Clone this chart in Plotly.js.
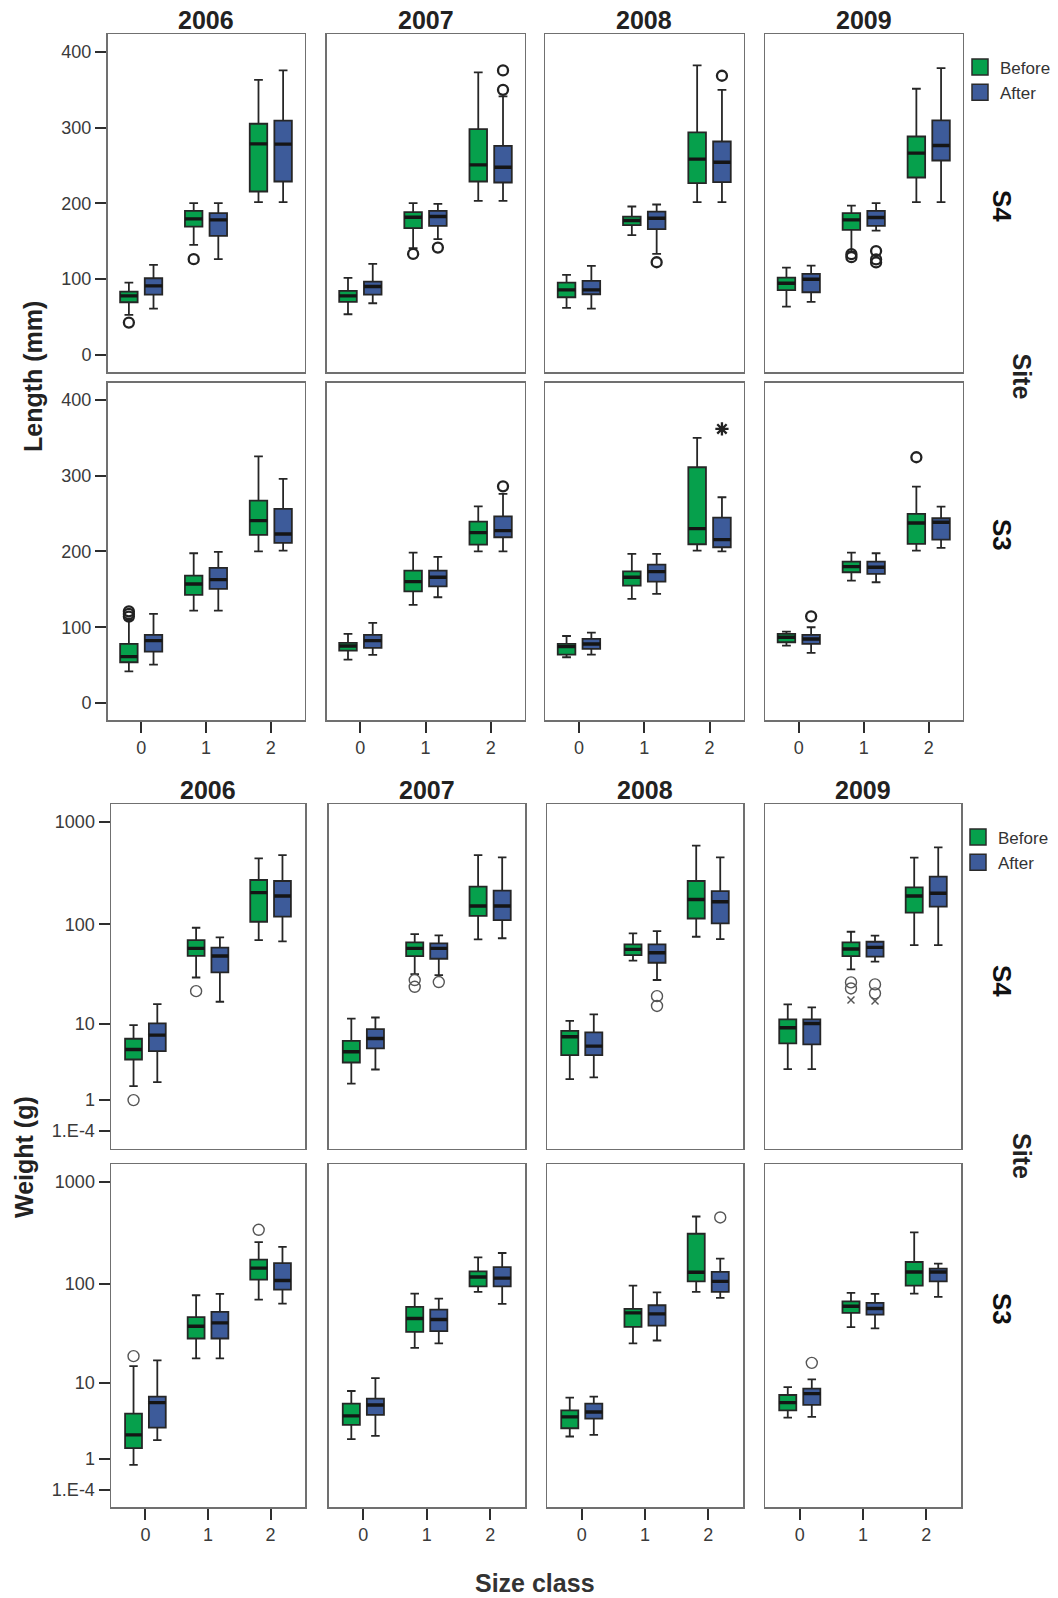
<!DOCTYPE html>
<html>
<head>
<meta charset="utf-8">
<script src="https://cdn.plot.ly/plotly-3.0.1.min.js"></script>
<style>html,body{margin:0;padding:0;background:#fff;}#chart{width:1058px;height:1598px;}</style>
</head>
<body>
<div id="chart"></div>
<script>
// ---------------- DATA ----------------
const years = ['2006', '2007', '2008', '2009'];
const sites = ['S4', 'S3'];
const sizeClasses = [0, 1, 2];
const groups = ['Before', 'After'];

// each: per year (2006..2009) -> per size class (0,1,2) -> [lowerWhisker, Q1, median, Q3, upperWhisker]
const lengthS4Before = [
  [[52.8, 69.5, 77.9, 83.6, 95.5], [145.2, 169.4, 179.5, 190.1, 200.2], [201.5, 215.6, 278.5, 305.0, 363.0]],
  [[53.7, 70.0, 77.9, 84.5, 101.7], [140.8, 167.2, 181.7, 188.3, 200.2], [203.3, 228.8, 250.8, 297.9, 372.7]],
  [[62.0, 76.1, 85.8, 95.5, 105.6], [158.0, 171.2, 177.3, 182.6, 195.8], [201.5, 226.6, 258.3, 293.5, 382.0]],
  [[63.8, 85.4, 94.6, 102.1, 115.3], [136.4, 165.0, 178.2, 187.0, 197.1], [201.5, 234.1, 266.2, 288.2, 351.2]]
];
const lengthS4After = [
  [[61.2, 79.6, 91.1, 101.2, 118.8], [126.3, 157.1, 178.2, 187.0, 200.2], [201.5, 228.8, 278.1, 309.0, 375.4]],
  [[68.2, 79.6, 90.2, 96.8, 120.1], [152.7, 170.3, 182.6, 190.1, 199.3], [203.3, 227.5, 247.7, 275.9, 341.0]],
  [[61.2, 80.1, 85.8, 97.7, 117.5], [133.3, 165.9, 180.4, 189.2, 198.5], [201.5, 227.9, 254.3, 281.6, 349.8]],
  [[70.0, 82.7, 99.9, 106.9, 117.9], [164.1, 170.3, 181.3, 190.1, 200.2], [201.5, 256.5, 276.3, 309.4, 378.4]]
];
const lengthS3Before = [
  [[41.8, 53.7, 61.2, 77.9, 109.6], [121.9, 142.6, 157.1, 168.1, 197.6], [200.2, 221.8, 240.7, 267.1, 325.6]],
  [[57.2, 69.1, 75.2, 79.2, 91.1], [129.4, 147.4, 160.2, 174.7, 198.5], [200.2, 209.0, 224.9, 239.4, 259.6]],
  [[60.3, 63.8, 74.4, 77.9, 88.4], [137.3, 154.9, 165.9, 173.8, 196.7], [201.1, 209.5, 230.1, 311.1, 349.8]],
  [[75.7, 80.1, 86.7, 91.1, 94.2], [161.5, 172.5, 180.0, 186.6, 198.5], [201.1, 209.9, 237.6, 249.5, 285.6]]
];
const lengthS3After = [
  [[50.6, 67.8, 82.3, 89.8, 117.5], [121.9, 150.5, 162.8, 178.2, 199.3], [201.1, 211.2, 223.1, 256.1, 295.7]],
  [[63.4, 72.6, 82.3, 89.8, 105.6], [139.5, 154.0, 165.9, 174.7, 192.7], [200.2, 218.7, 227.5, 246.4, 275.9]],
  [[63.8, 71.3, 77.9, 84.5, 92.8], [143.9, 160.2, 173.4, 182.6, 196.7], [200.2, 205.5, 215.6, 244.7, 271.5]],
  [[66.0, 77.9, 84.5, 89.8, 99.9], [159.3, 170.3, 179.1, 186.6, 197.6], [204.6, 215.6, 238.5, 243.8, 259.2]]
];

const weightS4Before = [
  [[1.72, 3.93, 5.17, 6.83, 9.6], [29.8, 49.0, 58.0, 70.0, 92.6], [70, 106, 204, 271, 440]],
  [[1.88, 3.61, 4.85, 6.48, 11.3], [32.2, 48.7, 58.0, 66.5, 80.2], [71, 121, 151, 233, 474]],
  [[2.18, 4.43, 7.18, 8.36, 10.7], [43.8, 49.8, 56.7, 63.5, 81.5], [75.5, 114, 175, 265, 584]],
  [[2.97, 6.05, 9.0, 11.1, 15.9], [35.9, 48.7, 57.1, 66.5, 84.6], [62.5, 130, 189, 230, 447]]
];
const weightS4After = [
  [[1.97, 4.94, 7.49, 10.03, 16.0], [16.9, 33.5, 48.7, 58.9, 74.4], [68, 119, 189, 265, 474]],
  [[2.94, 5.31, 6.88, 8.71, 11.6], [31.5, 45.8, 58.0, 64.9, 77.9], [73, 110, 151, 213, 450]],
  [[2.30, 4.43, 5.64, 8.02, 12.5], [28.1, 41.8, 52.5, 63.5, 85.9], [71.6, 102, 166, 211, 450]],
  [[2.97, 5.90, 10.0, 11.1, 14.8], [42.8, 48.0, 59.3, 67.4, 77.3], [62.5, 149, 201, 292, 563]]
];
const weightS3Before = [
  [[0.75, 1.54, 2.42, 4.51, 15.0], [18.0, 28.7, 38.1, 46.9, 77.3], [70, 110, 143, 173, 257]],
  [[2.11, 3.28, 4.24, 5.90, 8.15], [23.1, 33.5, 45.5, 59.3, 80.2], [83.4, 94.7, 117, 133, 182]],
  [[2.30, 2.97, 4.12, 4.94, 6.88], [25.6, 37.6, 51.7, 56.7, 96.1], [83.4, 106, 130, 310, 457]],
  [[4.04, 4.94, 6.05, 7.37, 9.0], [37.3, 51.7, 60.2, 67.4, 81.5], [80.2, 96.1, 131, 164, 319]]
];
const weightS3After = [
  [[2.04, 3.03, 6.05, 7.07, 17.2], [18.0, 28.7, 41.2, 52.9, 79.6], [64, 87.8, 108, 160, 231]],
  [[2.35, 4.35, 5.69, 6.71, 11.2], [25.6, 34.0, 44.4, 55.8, 71.6], [63.5, 94.7, 114, 146, 201]],
  [[2.42, 3.93, 4.72, 5.90, 7.06], [27.4, 38.7, 50.6, 61.6, 82.7], [72.8, 83.4, 106, 131, 177]],
  [[4.12, 5.69, 7.62, 8.64, 10.9], [36.2, 49.8, 57.1, 64.9, 79.6], [74.4, 106, 131, 141, 158]]
];

// outliers: [yearIndex, sizeClass, groupIndex(0=Before,1=After), value]
const lengthS4Outliers = [[0,0,0,42.7],[0,1,0,126.3],[1,1,0,133.3],[1,1,1,141.7],[1,2,1,349.8],[1,2,1,375.4],
  [2,1,1,122.3],[2,2,1,368.3],[3,1,0,133],[3,1,0,129],[3,1,1,137],[3,1,1,126],[3,1,1,122]];
const lengthS3Outliers = [[0,0,0,121],[0,0,0,117.5],[0,0,0,114],[1,2,1,286],[3,0,1,114.4],[3,2,0,324.3]];
const lengthS4Extremes = [];
const lengthS3Extremes = [[2,2,1,361.7]];
const weightS4Outliers = [[0,0,0,0.99],[0,1,0,21.7],[1,1,0,28.1],[1,1,0,24.0],[1,1,1,26.8],[2,1,1,19.3],[2,1,1,15.3],
  [3,1,0,26.6],[3,1,0,23.1],[3,1,1,25.4],[3,1,1,20.6]];
const weightS4Extremes = [[3,1,0,17.6],[3,1,1,17.2]];
const weightS3Outliers = [[0,0,0,19.0],[0,2,0,339],[2,2,1,447],[3,0,1,16.2]];
const weightS3Extremes = [];

const lengthTicks = [0, 100, 200, 300, 400];
const weightTicks = [0.0001, 1, 10, 100, 1000];
const weightTickText = ['1.E-4', '1', '10', '100', '1000'];

// ---------------- STYLE / LAYOUT ----------------
const W = 1058, H = 1598;
const FONT = 'Liberation Sans, Arial, Helvetica, sans-serif';
const GREEN = '#06a04c', BLUE = '#3d5b9a';
const COLORS = [GREEN, BLUE];
const BOXGAP = 0.24, BOXGROUPGAP = 0.29;
const OFF = (1 - BOXGAP) / 4;
const safeLog = v => Math.log10(v + 1);   // SPSS-style log(x+1) scale
const ident = v => v;

const lenCols = [[107.5, 304.5], [326.5, 524.5], [545, 743.5], [765, 962.5]];
const wtCols = [[111, 305], [328.5, 525], [547, 743], [765, 961]];
const rowsPx = [[34.3, 372], [382.5, 720], [804.3, 1148.5], [1164.3, 1507.3]];

const blocks = [
  { data: [[lengthS4Before, lengthS4After], [lengthS3Before, lengthS3After]],
    outliers: [lengthS4Outliers, lengthS3Outliers], extremes: [lengthS4Extremes, lengthS3Extremes],
    f: ident, cols: lenCols, rows: [rowsPx[0], rowsPx[1]], xrange: [-0.52, 2.52], yrange: [-22.5, 423],
    tickvals: lengthTicks, ticktext: lengthTicks.map(String),
    outMarker: { symbol: 'circle-open', size: 10, color: '#222', line: { width: 2.3 } },
    extMarker: { symbol: 'asterisk-open', size: 11, color: '#222', line: { width: 2.3 } } },
  { data: [[weightS4Before, weightS4After], [weightS3Before, weightS3After]],
    outliers: [weightS4Outliers, weightS3Outliers], extremes: [weightS4Extremes, weightS3Extremes],
    f: safeLog, cols: wtCols, rows: [rowsPx[2], rowsPx[3]], xrange: [-0.55, 2.55], yrange: [-0.171, 3.169],
    tickvals: weightTicks, ticktext: weightTickText,
    outMarker: { symbol: 'circle-open', size: 11, color: '#555', line: { width: 1.4 } },
    extMarker: { symbol: 'x-thin-open', size: 7, color: '#555', line: { width: 1.4 } } }
];

const commonAxis = {
  showgrid: false, zeroline: false, showline: true, mirror: true,
  linecolor: '#707070', linewidth: 1.5, ticklen: 11, tickwidth: 2, tickcolor: '#2e2e2e',
  tickfont: { family: FONT, size: 18, color: '#3a3a3a' }, fixedrange: true
};

const traces = [];
const layout = {
  width: W, height: H,
  margin: { l: 0, r: 0, t: 0, b: 0, autoexpand: false },
  paper_bgcolor: '#fff', plot_bgcolor: '#fff',
  font: { family: FONT, color: '#222' },
  boxmode: 'group', boxgap: BOXGAP, boxgroupgap: BOXGROUPGAP,
  showlegend: true,
  legend: { x: 960 / W, y: 1 - 49.5 / H, xanchor: 'left', yanchor: 'top', bgcolor: 'rgba(0,0,0,0)',
            font: { family: FONT, size: 17, color: '#333' }, tracegroupgap: 0 },
  legend2: { x: 958 / W, y: 1 - 819.5 / H, xanchor: 'left', yanchor: 'top', bgcolor: 'rgba(0,0,0,0)',
             font: { family: FONT, size: 17, color: '#333' }, tracegroupgap: 0 },
  annotations: []
};

blocks.forEach((B, b) => {
  [0, 1].forEach(r => {
    years.forEach((yr, c) => {
      const n = b * 8 + r * 4 + c + 1;
      const sfx = n > 1 ? String(n) : '';
      const xa = 'x' + sfx, ya = 'y' + sfx;
      const cp = B.cols[c], rp = B.rows[r];
      layout['xaxis' + sfx] = Object.assign({}, commonAxis, {
        domain: [cp[0] / W, cp[1] / W], anchor: ya, range: B.xrange,
        tickmode: 'array', tickvals: sizeClasses, ticktext: sizeClasses.map(String),
        ticks: r === 1 ? 'outside' : '', showticklabels: r === 1
      });
      layout['yaxis' + sfx] = Object.assign({}, commonAxis, {
        domain: [1 - rp[1] / H, 1 - rp[0] / H], anchor: xa, range: B.yrange,
        tickmode: 'array', tickvals: B.tickvals.map(B.f), ticktext: B.ticktext,
        ticks: c === 0 ? 'outside' : '', showticklabels: c === 0
      });
      // boxes
      [0, 1].forEach(g => {
        const st = B.data[r][g][c];
        traces.push({
          type: 'box', xaxis: xa, yaxis: ya, x: sizeClasses, name: groups[g], offsetgroup: groups[g],
          lowerfence: st.map(s => B.f(s[0])), q1: st.map(s => B.f(s[1])), median: st.map(s => B.f(s[2])),
          q3: st.map(s => B.f(s[3])), upperfence: st.map(s => B.f(s[4])),
          fillcolor: COLORS[g], line: { color: '#262626', width: 1.8 }, whiskerwidth: 0.5,
          boxpoints: false, showlegend: false, hoverinfo: 'skip'
        });
      });
      // thick median overlay
      [0, 1].forEach(g => {
        const med = B.data[r][g][c].map(s => B.f(s[2]));
        traces.push({
          type: 'box', xaxis: xa, yaxis: ya, x: sizeClasses, name: groups[g] + ' median', offsetgroup: groups[g],
          lowerfence: med, q1: med, median: med, q3: med, upperfence: med,
          fillcolor: 'rgba(0,0,0,0)', line: { color: '#151515', width: 3.4 }, whiskerwidth: 0.01,
          boxpoints: false, showlegend: false, hoverinfo: 'skip'
        });
      });
      // outliers & extremes
      [0, 1].forEach(g => {
        const pts = B.outliers[r].filter(o => o[0] === c && o[2] === g);
        if (pts.length) traces.push({
          type: 'scatter', mode: 'markers', xaxis: xa, yaxis: ya,
          x: pts.map(o => o[1] + (g === 0 ? -OFF : OFF)), y: pts.map(o => B.f(o[3])),
          marker: B.outMarker, showlegend: false, hoverinfo: 'skip', cliponaxis: false
        });
        const ex = B.extremes[r].filter(o => o[0] === c && o[2] === g);
        if (ex.length) traces.push({
          type: 'scatter', mode: 'markers', xaxis: xa, yaxis: ya,
          x: ex.map(o => o[1] + (g === 0 ? -OFF : OFF)), y: ex.map(o => B.f(o[3])),
          marker: B.extMarker, showlegend: false, hoverinfo: 'skip', cliponaxis: false
        });
      });
      // year titles
      if (r === 0) {
        layout.annotations.push({
          xref: 'paper', yref: 'paper', x: (cp[0] + cp[1]) / 2 / W, y: 1 - (rp[0] - 14) / H,
          xanchor: 'center', yanchor: 'middle', showarrow: false, text: '<b>' + yr + '</b>',
          font: { family: FONT, size: 25, color: '#222' }
        });
      }
    });
  });
});

// legend entries
['legend', 'legend2'].forEach((lg, i) => {
  groups.forEach((gname, g) => {
    traces.push({
      type: 'scatter', mode: 'markers', x: [null], y: [null], xaxis: i === 0 ? 'x' : 'x9', yaxis: i === 0 ? 'y' : 'y9',
      name: gname, legend: lg, showlegend: true, hoverinfo: 'skip',
      marker: { symbol: 'square', size: 16, color: COLORS[g], line: { color: '#2a2a2a', width: 1.5 } }
    });
  });
});

// site labels
const siteLabelY = [206, 535, 981, 1309];
siteLabelY.forEach((yy, i) => {
  layout.annotations.push({
    xref: 'paper', yref: 'paper', x: 1002 / W, y: 1 - yy / H, xanchor: 'center', yanchor: 'middle',
    showarrow: false, textangle: 90, text: '<b>' + sites[i % 2] + '</b>', font: { family: FONT, size: 26, color: '#111' }
  });
});
[376.5, 1156].forEach(yy => {
  layout.annotations.push({
    xref: 'paper', yref: 'paper', x: 1022 / W, y: 1 - yy / H, xanchor: 'center', yanchor: 'middle',
    showarrow: false, textangle: 90, text: '<b>Site</b>', font: { family: FONT, size: 25, color: '#222' }
  });
});
// axis titles
layout.annotations.push({
  xref: 'paper', yref: 'paper', x: 33 / W, y: 1 - 377 / H, xanchor: 'center', yanchor: 'middle',
  showarrow: false, textangle: -90, text: '<b>Length (mm)</b>', font: { family: FONT, size: 25, color: '#222' }
});
layout.annotations.push({
  xref: 'paper', yref: 'paper', x: 24 / W, y: 1 - 1157 / H, xanchor: 'center', yanchor: 'middle',
  showarrow: false, textangle: -90, text: '<b>Weight (g)</b>', font: { family: FONT, size: 25, color: '#222' }
});
layout.annotations.push({
  xref: 'paper', yref: 'paper', x: 535 / W, y: 1 - 1583 / H, xanchor: 'center', yanchor: 'middle',
  showarrow: false, text: '<b>Size class</b>', font: { family: FONT, size: 25, color: '#333' }
});

Plotly.newPlot('chart', traces, layout, { staticPlot: true, displayModeBar: false });
</script>
</body>
</html>
